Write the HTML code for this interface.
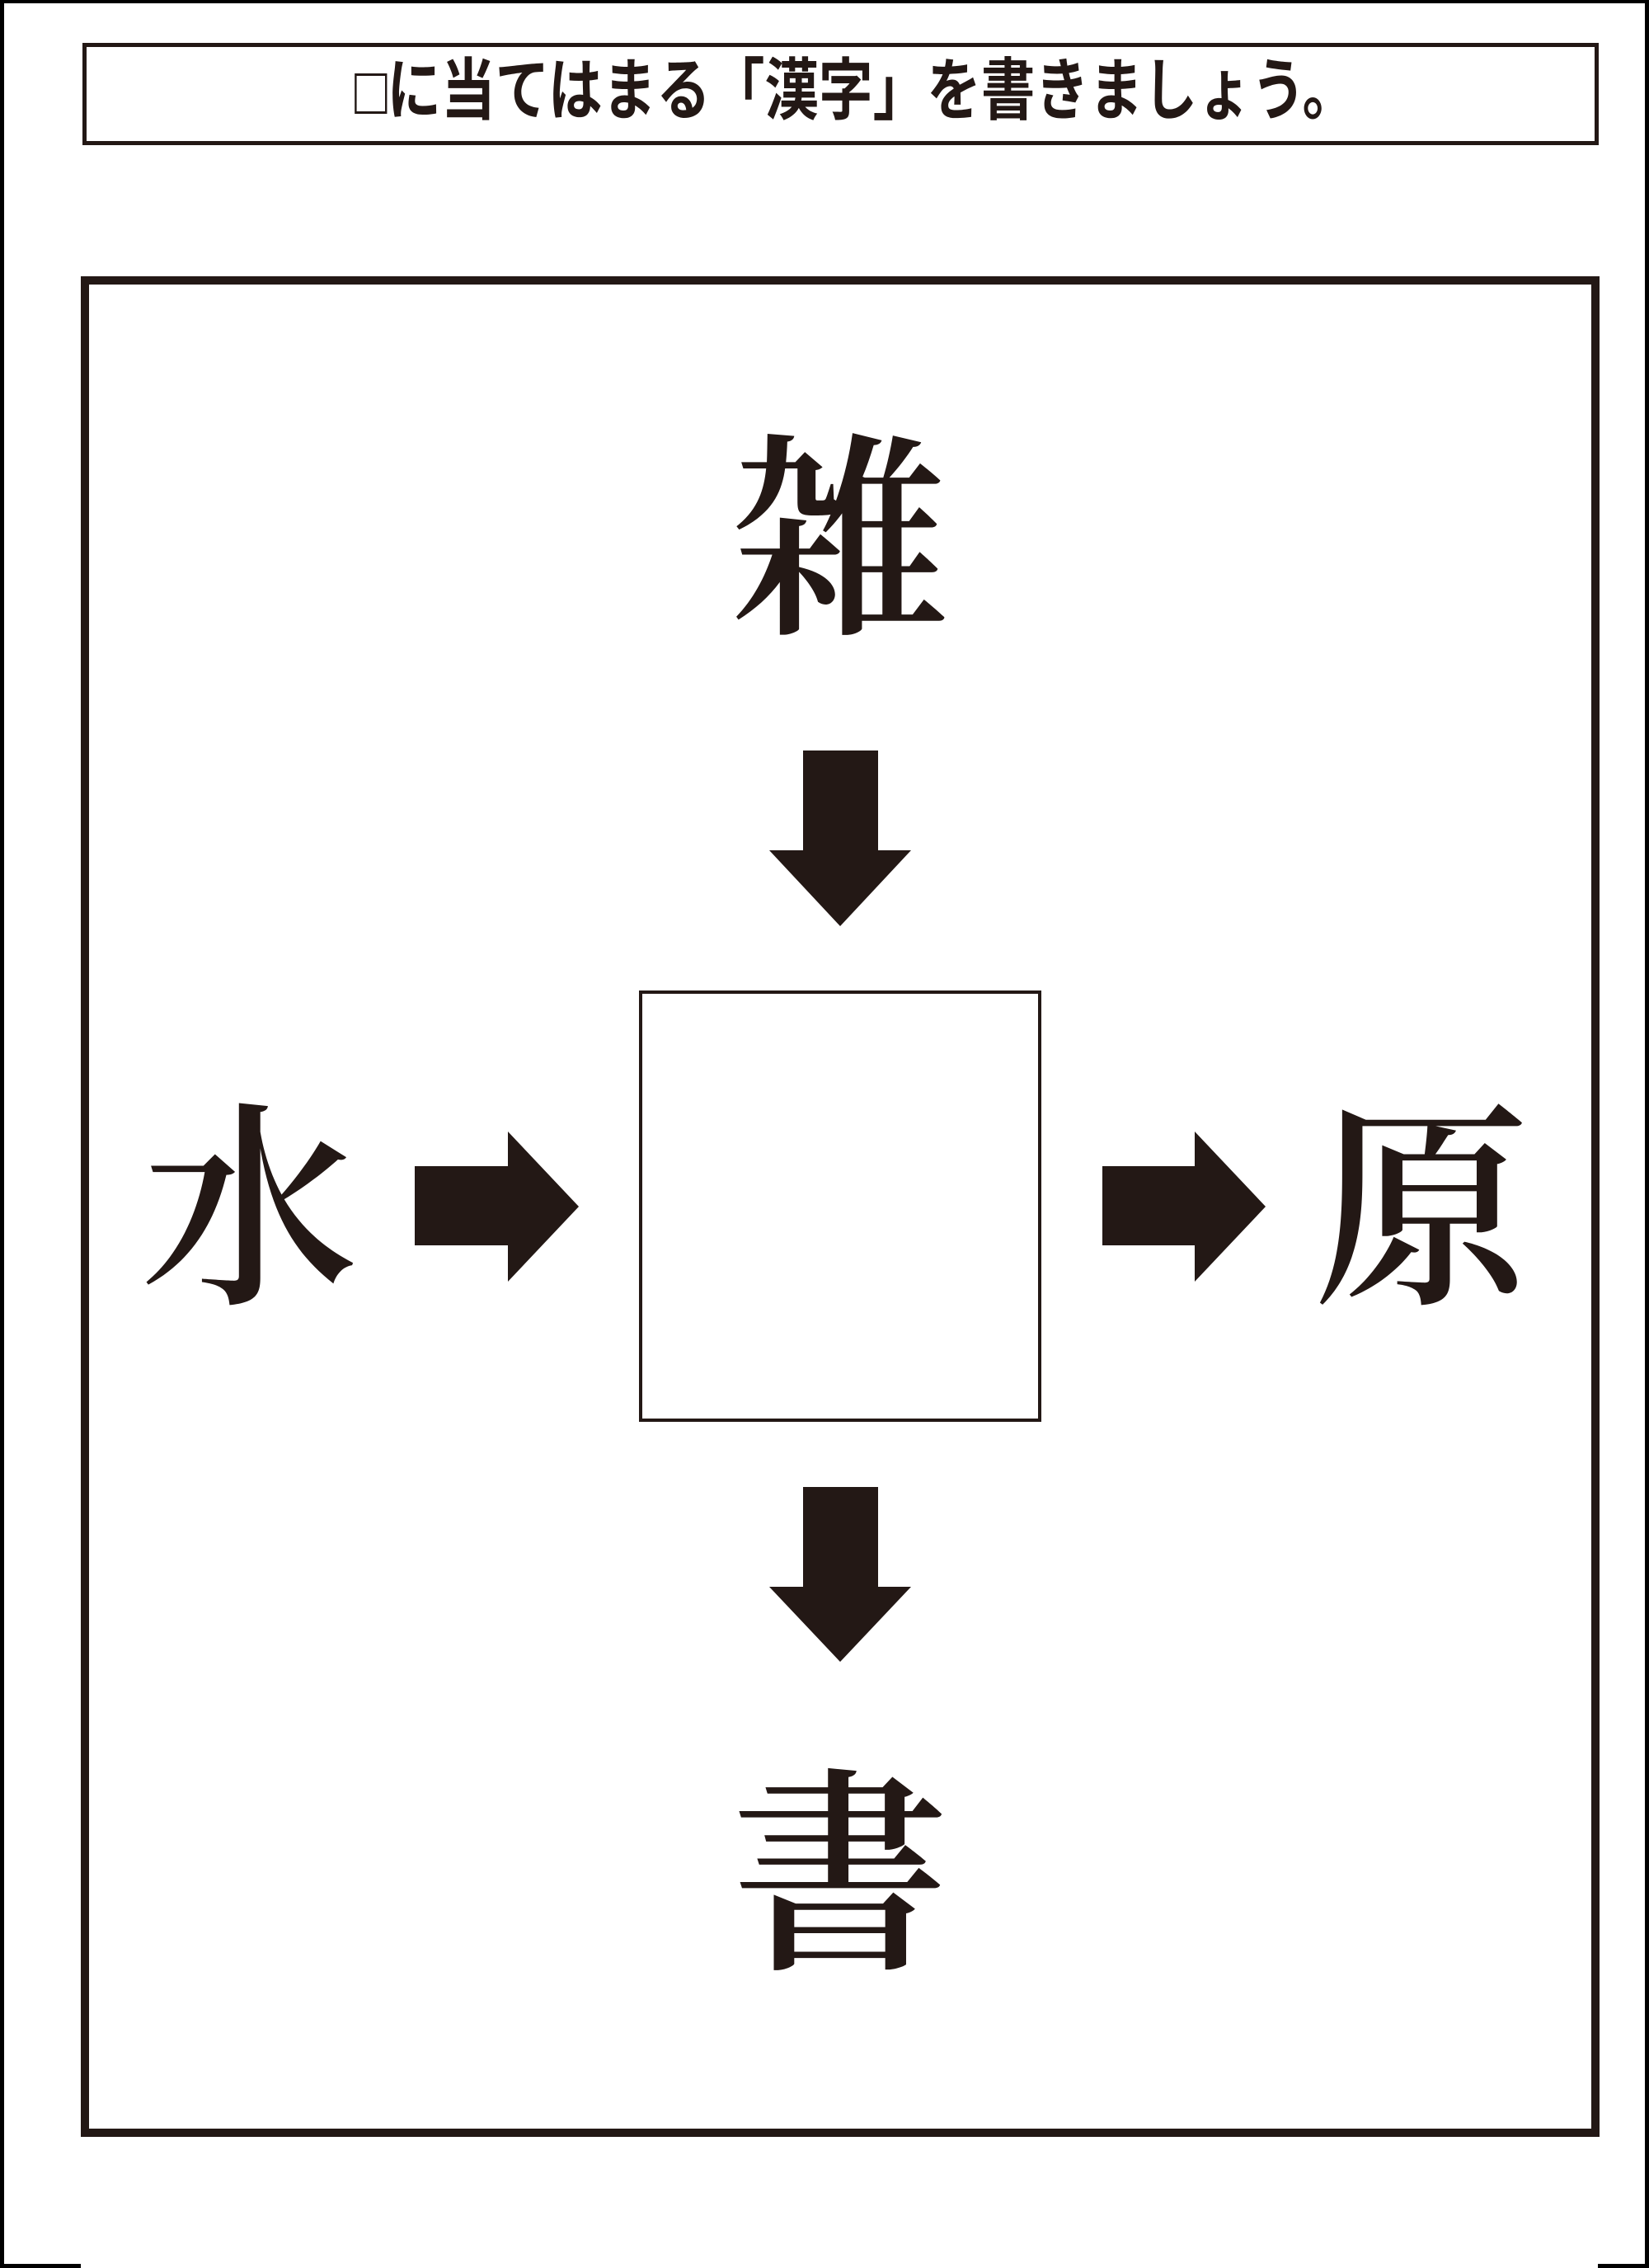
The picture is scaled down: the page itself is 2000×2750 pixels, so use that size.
<!DOCTYPE html>
<html><head><meta charset="utf-8"><style>
body{margin:0;width:2000px;height:2750px;background:#fff;position:relative;overflow:hidden}
.a{position:absolute}
.k{position:absolute;font-family:"Liberation Serif","Noto Serif CJK JP","Noto Serif CJK SC",serif;font-weight:600;font-size:264px;line-height:1;color:#231815;transform:translate(-50%,-50%)}
</style></head><body>
<div class="a" style="left:0;top:0;width:5px;height:2750px;background:#000"></div>
<div class="a" style="right:0;top:0;width:5px;height:2750px;background:#000"></div>
<div class="a" style="left:0;top:0;width:2000px;height:4px;background:#000"></div>
<div class="a" style="left:0;top:2745px;width:98px;height:5px;background:#000"></div>
<div class="a" style="left:1938px;top:2745px;width:62px;height:5px;background:#000"></div>
<div class="a" style="left:100px;top:52px;width:1829px;height:114px;border:5px solid #231815"></div>
<div class="a" style="left:118px;top:68px;width:1839px;height:86px;text-align:center;font-family:'Liberation Sans','Noto Sans CJK JP',sans-serif;font-weight:bold;font-size:82px;line-height:86px;color:#231815;transform:scaleX(0.8);transform-origin:center">□に当てはまる「漢字」を書きましょう。</div>
<div class="a" style="left:98px;top:335px;width:1822px;height:2236px;border:10px solid #231815"></div>
<div class="a" style="left:775px;top:1201px;width:480px;height:515px;border:4px solid #231815"></div>
<svg class="a" style="left:0;top:0" width="2000" height="2750">
<g fill="#231815">
<polygon points="974,910 1065,910 1065,1031 1105,1031 1019,1123 933,1031 974,1031"/>
<polygon points="974,1803 1065,1803 1065,1924 1105,1924 1019,2015 933,1924 974,1924"/>
<polygon points="503,1414 616,1414 616,1372 702,1463 616,1554 616,1510 503,1510"/>
<polygon points="1337,1414 1449,1414 1449,1372 1535,1463 1449,1554 1449,1510 1337,1510"/>
</g></svg>
<div class="k" style="left:1019px;top:660px">雑</div>
<div class="k" style="left:303px;top:1472px">水</div>
<div class="k" style="left:1725px;top:1472px">原</div>
<div class="k" style="left:1019px;top:2279px">書</div>
</body></html>
